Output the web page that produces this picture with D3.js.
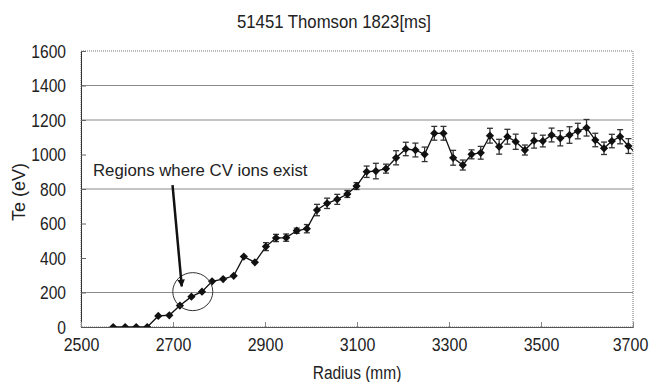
<!DOCTYPE html>
<html>
<head>
<meta charset="utf-8">
<script src="https://cdn.jsdelivr.net/npm/d3@7"></script>
<style>
  body { margin: 0; background: #fff; }
  svg text { font-family: "Liberation Sans", Arial, sans-serif; fill: #222; }
</style>
</head>
<body>
<div id="chart"></div>
<script>
// radius (mm) of each Thomson channel
var radius = [2570, 2596, 2620, 2644, 2668, 2692, 2715, 2740, 2763, 2785, 2809, 2832,
  2854, 2878, 2902, 2924, 2946, 2969, 2991, 3013, 3035, 3057, 3079, 3099,
  3121, 3141, 3163, 3185, 3206, 3227, 3247, 3268, 3288, 3309, 3330, 3349,
  3369, 3389, 3409, 3427, 3445, 3465, 3485, 3504, 3523, 3542, 3562, 3580,
  3599, 3618, 3637, 3654, 3672, 3690, 3708]
// electron temperature (eV)
var te = [0, 0, 0, 0, 64, 68, 124, 176, 205, 265, 278, 297,
  408, 375, 466, 516, 518, 558, 570, 678, 717, 740, 771, 817,
  900, 904, 918, 981, 1032, 1026, 1001, 1123, 1123, 981, 939, 1001,
  1010, 1109, 1045, 1103, 1074, 1026, 1080, 1078, 1113, 1094, 1113, 1136,
  1155, 1084, 1036, 1078, 1103, 1049, 1003]
// error bar half-width (eV)
var teErr = [8, 8, 8, 8, 8, 8, 8, 8, 8, 8, 8, 10,
  10, 10, 23, 21, 21, 15, 24, 33, 30, 29, 20, 20,
  33, 45, 26, 41, 39, 40, 42, 40, 40, 43, 29, 26,
  37, 43, 43, 43, 44, 29, 43, 34, 40, 44, 48, 45,
  48, 39, 36, 39, 41, 43, 35]

var xTicks = [2500, 2700, 2900, 3100, 3300, 3500, 3700]
var yTicks = [0, 200, 400, 600, 800, 1000, 1200, 1400, 1600]
var gridValues = [200, 800, 1200, 1400]

var title = '51451 Thomson 1823[ms]'
var xLabel = 'Radius (mm)'
var yLabel = 'Te (eV)'
var note = 'Regions where CV ions exist'
// annotation anchors in data units: text start, arrow start/end, circle centre
var noteAt = [2526, 875]
var arrowFrom = [2699, 823]
var arrowTo = [2719, 236]
var circleAt = [2743, 205]

var data = radius.map(function(r, i){ return {r: r, te: te[i], err: teErr[i]} })

var W = 653, H = 382
var margin = {left: 81, right: 20, top: 51, bottom: 55}
var width = W - margin.left - margin.right
var height = H - margin.top - margin.bottom

var svg = d3.select('#chart').append('svg').attr('width', W).attr('height', H)
var g = svg.append('g').attr('transform', 'translate(' + margin.left + ',' + margin.top + ')')

var x = d3.scaleLinear().domain([2500, 3700]).range([0, width])
var y = d3.scaleLinear().domain([0, 1600]).range([height, 0])

// no narrow font installed, so squeeze the glyphs like the original gothic face
function condense(sel, k){
  sel.each(function(){
    var len = this.getComputedTextLength()
    d3.select(this).attr('textLength', len * k).attr('lengthAdjust', 'spacingAndGlyphs')
  })
}

// grid lines (only the ones that show on the scan)
g.selectAll('line.grid').data(gridValues).enter().append('line')
  .attr('x1', 0).attr('x2', width)
  .attr('y1', y).attr('y2', y)
  .attr('stroke', '#8a8a8a').attr('stroke-width', 1)

// frame
g.append('rect').attr('width', width).attr('height', height)
  .attr('fill', 'none').attr('stroke', '#777').attr('stroke-dasharray', '1,1')

var yAxis = g.append('g')
  .call(d3.axisLeft(y).tickValues(yTicks).tickSize(-5).tickPadding(15).tickFormat(d3.format('d')))
yAxis.select('.domain').attr('stroke', '#333')
yAxis.selectAll('.tick line').attr('stroke', '#666')
yAxis.selectAll('text').attr('font-size', 19).attr('font-family', null).attr('fill', '#222')
  .call(condense, 0.82)

var xAxis = g.append('g').attr('transform', 'translate(0,' + height + ')')
  .call(d3.axisBottom(x).tickValues(xTicks).tickSize(-5).tickPadding(11).tickFormat(d3.format('d')))
xAxis.select('.domain').attr('stroke', '#555')
xAxis.selectAll('.tick line').attr('stroke', '#888')
xAxis.selectAll('text').attr('font-size', 19).attr('font-family', null).attr('fill', '#222')
  .call(condense, 0.84)
// last label sits at the page edge, nudge it in a little
xAxis.selectAll('text').filter(function(d){ return d == 3700 }).attr('dx', -3)

svg.append('text').attr('x', 334).attr('y', 28).attr('text-anchor', 'middle')
  .attr('font-size', 19).text(title).call(condense, 0.88)
svg.append('text').attr('x', margin.left + width / 2).attr('y', 379).attr('text-anchor', 'middle')
  .attr('font-size', 18).text(xLabel).call(condense, 0.86)
svg.append('text').attr('transform', 'translate(25,192) rotate(-90)')
  .attr('text-anchor', 'middle').attr('font-size', 18).text(yLabel)

// data
svg.append('clipPath').attr('id', 'plotclip').append('rect')
  .attr('width', width).attr('height', height + 8).attr('y', -8)
var plot = g.append('g').attr('clip-path', 'url(#plotclip)')

var bars = plot.selectAll('g.err').data(data.filter(function(d){ return d.err > 12 })).enter().append('g')
  .attr('stroke', '#333').attr('stroke-width', 1.3)
bars.append('line').attr('x1', function(d){ return x(d.r) }).attr('x2', function(d){ return x(d.r) })
  .attr('y1', function(d){ return y(d.te - d.err) }).attr('y2', function(d){ return y(d.te + d.err) })
bars.append('line').attr('x1', function(d){ return x(d.r) - 3 }).attr('x2', function(d){ return x(d.r) + 3 })
  .attr('y1', function(d){ return y(d.te + d.err) }).attr('y2', function(d){ return y(d.te + d.err) })
bars.append('line').attr('x1', function(d){ return x(d.r) - 3 }).attr('x2', function(d){ return x(d.r) + 3 })
  .attr('y1', function(d){ return y(d.te - d.err) }).attr('y2', function(d){ return y(d.te - d.err) })

var line = d3.line().x(function(d){ return x(d.r) }).y(function(d){ return y(d.te) })
plot.append('path').datum(data).attr('d', line)
  .attr('fill', 'none').attr('stroke', '#111').attr('stroke-width', 1.3)

plot.selectAll('path.pt').data(data).enter().append('path')
  .attr('d', d3.symbol().type(d3.symbolSquare).size(34))
  .attr('transform', function(d){ return 'translate(' + x(d.r) + ',' + y(d.te) + ') rotate(45)' })
  .attr('fill', '#111')

// annotation
g.append('text')
  .attr('x', x(noteAt[0])).attr('y', y(noteAt[1]))
  .attr('font-size', 16.8).text(note)

g.append('ellipse')
  .attr('cx', x(circleAt[0])).attr('cy', y(circleAt[1]))
  .attr('rx', 20).attr('ry', 19)
  .attr('fill', 'none').attr('stroke', '#333').attr('stroke-width', 1)

svg.append('defs').append('marker').attr('id', 'arrowhead')
  .attr('viewBox', '0 0 10 10').attr('refX', 9).attr('refY', 5)
  .attr('markerWidth', 3).attr('markerHeight', 3).attr('orient', 'auto')
  .append('path').attr('d', 'M0,0L10,5L0,10z').attr('fill', '#111')

g.append('line')
  .attr('x1', x(arrowFrom[0])).attr('y1', y(arrowFrom[1]))
  .attr('x2', x(arrowTo[0])).attr('y2', y(arrowTo[1]))
  .attr('stroke', '#111').attr('stroke-width', 2.5)
  .attr('marker-end', 'url(#arrowhead)')
</script>
</body>
</html>
